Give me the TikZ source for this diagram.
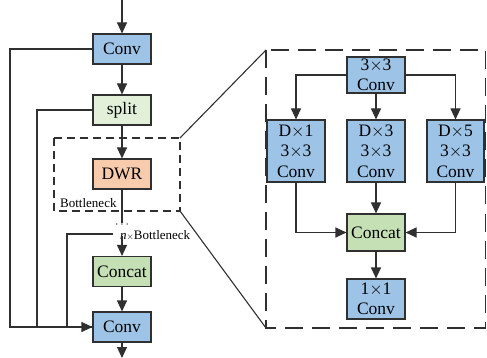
\documentclass[tikz,border=0pt]{standalone}
\usepackage{fontspec}
\setmainfont{Liberation Serif}
\usetikzlibrary{arrows.meta}
\definecolor{convblue}{HTML}{9DC3E6}
\definecolor{catgreen}{HTML}{C5E0B4}
\definecolor{splitgreen}{HTML}{E2F0D9}
\definecolor{dwrorange}{HTML}{F8CBAD}
\definecolor{edge}{HTML}{303030}
\tikzset{
  blk/.style={draw=edge, line width=1.1pt, inner sep=0pt, minimum width=58pt, minimum height=30pt, align=center, font=\fontsize{17.5}{20.5}\selectfont},
  conv/.style={blk, fill=convblue},
  cat/.style={blk, fill=catgreen},
  arr/.style={line width=1.1pt, draw=edge, -{Triangle[length=11pt,width=10pt]}},
  ln/.style={line width=1.1pt, draw=edge},
  lbl/.style={font=\fontsize{13}{15}\selectfont, inner sep=0pt},
  dashL/.style={line width=1.1pt, draw=edge, dash pattern=on 8pt off 5pt},
  dashR/.style={line width=1.1pt, draw=edge, dash pattern=on 18pt off 9pt},
}
\begin{document}
\begin{tikzpicture}[x=1pt,y=-1pt]
\useasboundingbox (0,0) rectangle (487,358);
% left column
\coordinate (top) at (122,0);
\node[conv] (c1) at (122,49) {Conv};
\node[blk, fill=splitgreen] (sp) at (122,110) {split};
\node[blk, fill=dwrorange] (dwr) at (122,174) {DWR};
\node[cat] (cc) at (122,271.5) {Concat};
\node[conv] (c2) at (122,327) {Conv};
\coordinate (bot) at (122,358);
\draw[dashL] (54,138) rectangle (180,211);
\coordinate (bbTL) at (180,138);
\coordinate (bbBR) at (180,211);
\node[lbl, anchor=west] (bl) at (60,203) {Bottleneck};
\coordinate (dend) at (122,223);
\node[lbl, anchor=center] (dots) at (122,225) {$\cdots$};
\coordinate (nstart) at (122,236);
\coordinate (nleft) at (113,234);
\node[lbl, anchor=base west] (nb) at (120,240) {\textit{n}\raisebox{0.1ex}{\fontsize{9}{10}\selectfont$\times$}Bottleneck};
\draw[arr] (top) -- (c1.north);
\draw[arr] (c1) -- (sp);
\draw[arr] (sp) -- (dwr);
\draw[ln] (dwr.south) -- (dend);
\draw[arr] (nstart) -- (cc.north);
\draw[arr] (cc) -- (c2);
\draw[arr] (c2.south) -- (bot);
\draw[ln] (sp.west) -- (37,110) |- (c2.west);
\draw[ln] (nleft) -- (67,234) |- (c2.west);
\draw[arr] (c1.west) -- (10,49) |- (c2.west);
% right panel
\draw[dashR] (266,50) rectangle (485.5,328);
\coordinate (rTL) at (266,50);
\coordinate (rBL) at (266,328);
\draw[ln] (bbTL) -- (rTL);
\draw[ln] (bbBR) -- (rBL);
\node[conv, minimum height=36pt] (k3) at (376,75) {3$\times$3\\Conv};
\node[conv, minimum height=62pt] (d1) at (296,151) {D$\times$1\\3$\times$3\\Conv};
\node[conv, minimum height=62pt] (d3) at (376,151) {D$\times$3\\3$\times$3\\Conv};
\node[conv, minimum height=62pt, minimum width=57pt] (d5) at (455.5,151) {D$\times$5\\3$\times$3\\Conv};
\node[cat, minimum height=37pt] (rc) at (376,232.5) {Concat};
\node[conv, minimum height=40pt] (k1) at (376,299) {1$\times$1\\Conv};
\draw[arr] (k3.west) -| (d1.north);
\draw[arr] (k3.east) -| (d5.north);
\draw[arr] (k3) -- (d3);
\draw[arr] (d1.south) |- (rc.west);
\draw[arr] (d5.south) |- (rc.east);
\draw[arr] (d3) -- (rc);
\draw[arr] (rc) -- (k1);
\end{tikzpicture}
\end{document}
